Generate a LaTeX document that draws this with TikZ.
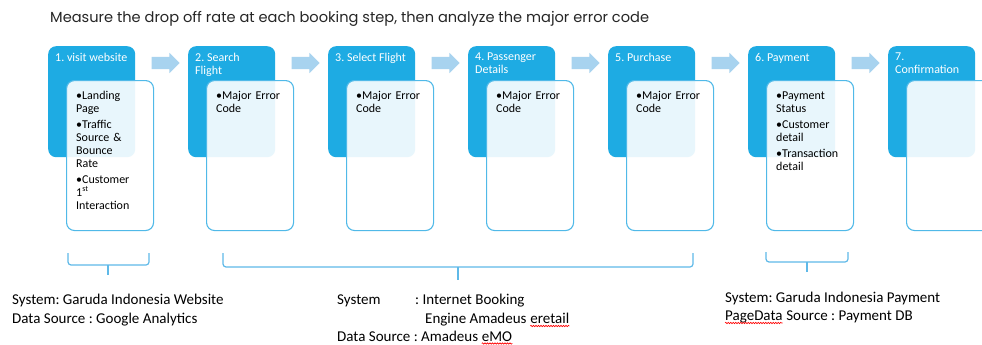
\documentclass[tikz,border=0pt]{standalone}
\usepackage{fontspec}
\setmainfont{Carlito}
\newfontfamily\headfont{Poppins}
\usetikzlibrary{shapes.arrows,decorations.pathmorphing}
\frenchspacing

\definecolor{stepblue}{RGB}{30,171,227}
\definecolor{panelline}{RGB}{80,185,232}
\definecolor{flowblue}{RGB}{168,211,239}
\definecolor{bracketblue}{RGB}{95,185,232}

% one bullet of a panel
\newcommand{\bul}[1]{\par\noindent\hangindent=6pt\hangafter=1\makebox[6pt][l]{\textbullet}#1\par\vspace{3pt}}

\tikzset{
  stepbox/.style={fill=stepblue, rounded corners=8pt, minimum width=87pt,
    minimum height=111pt, anchor=north west, inner sep=0pt},
  steptitle/.style={text=white, font=\fontsize{12}{13}\selectfont, align=left,
    anchor=north west, inner sep=0pt},
  panel/.style={draw=panelline, line width=1.1pt, fill=white, fill opacity=0.9,
    rounded corners=8pt, minimum width=87pt, minimum height=150pt,
    anchor=north west, inner sep=0pt},
  bullets/.style={font=\fontsize{12}{13}\selectfont, text width=80pt, align=left,
    anchor=north west, inner sep=0pt},
  flowarrow/.style={single arrow, fill=flowblue, minimum height=28pt,
    single arrow head extend=4pt, inner sep=0pt},
  bracket/.style={draw=bracketblue, line width=1.2pt, rounded corners=3pt},
  srctext/.style={font=\fontsize{15}{19}\selectfont, anchor=base west, inner sep=0pt},
  spellmark/.style={draw=red, line width=0.6pt, decorate,
    decoration={snake, amplitude=0.7pt, segment length=2.5pt}}
}

\begin{document}
\begin{tikzpicture}[x=1pt,y=-1pt]
\useasboundingbox[fill=white] (0,0) rectangle (982,345);

\node[anchor=base west, inner sep=0pt, text=black!85, font=\headfont\fontsize{14.6}{16}\selectfont]
  (head) at (50,23) {Measure the drop off rate at each booking step, then analyze the major error code};

% steps
\foreach \i in {1,...,7}
  \node[stepbox] (s\i) at ({48+140*(\i-1)},46) {};
\foreach \i in {1,...,6}
  \node[flowarrow] (a\i) at ([shift={(27,17)}]s\i.north east) {\rule{0pt}{12pt}};
\foreach \i in {1,...,7}
  \node[panel] (p\i) at ([shift={(18,34)}]s\i.north west) {};

\node[steptitle] (h1) at ([shift={(7,7)}]s1.north west) {1. visit website};
\node[steptitle] (h2) at ([shift={(7,7)}]s2.north west) {2. Search\\Flight};
\node[steptitle] (h3) at ([shift={(7,7)}]s3.north west) {3. Select Flight};
\node[steptitle] (h4) at ([shift={(7,7)}]s4.north west) {4. Passenger\\Details};
\node[steptitle] (h5) at ([shift={(7,7)}]s5.north west) {5. Purchase};
\node[steptitle] (h6) at ([shift={(7,7)}]s6.north west) {6. Payment};
\node[steptitle] (h7) at ([shift={(7,7)}]s7.north west) {7.\\Confirmation};

\node[bullets] (t1) at ([shift={(10,6)}]p1.north west)
  {\bul{Landing\\Page}\bul{Traffic\\Source \&\\Bounce\\Rate}\bul{Customer\\1\textsuperscript{st}\\Interaction}};
\foreach \i in {2,...,5}
  \node[bullets] (t\i) at ([shift={(10,6)}]p\i.north west) {\bul{Major Error\\Code}};
\node[bullets] (t6) at ([shift={(10,6)}]p6.north west)
  {\bul{Payment\\Status}\bul{Customer\\detail}\bul{Transaction\\detail}};

% brackets
\draw[bracket] (68,253) -- (68,265) -- (149,265) -- (149,253);
\draw[bracket] (108,265) -- (108,275);
\draw[bracket] (223,253) -- (223,267) -- (693,267) -- (693,253);
\draw[bracket] (458,267) -- (458,280);
\draw[bracket] (766,252) -- (766,262) -- (848,262) -- (848,252);
\draw[bracket] (807,262) -- (807,272);

% systems
\node[srctext] (sys1) at (12,304) {System: Garuda Indonesia Website};
\node[srctext] (src1) at (12,323) {Data Source : Google Analytics};

\node[srctext] (sys2) at (337,304) {System};
\node[srctext] (ibe) at (415,304) {: Internet Booking};
\node[srctext] (eng) at (425,323) {Engine Amadeus};
\node[srctext] (eret) at ([xshift=3.4pt]eng.base east) {eretail};
\node[srctext] (src2) at (337,341) {Data Source : Amadeus};
\node[srctext] (emo) at ([xshift=3.4pt]src2.base east) {eMO};

\node[srctext] (sys3) at (725,302) {System: Garuda Indonesia Payment};
\node[srctext] (pgd) at (725,320) {PageData};
\node[srctext] (src3) at ([xshift=3.4pt]pgd.base east) {Source : Payment DB};

\draw[spellmark] ([yshift=-3pt]eret.base west) -- ([yshift=-3pt]eret.base east);
\draw[spellmark] ([yshift=-2.5pt]emo.base west) -- ([yshift=-2.5pt]emo.base east);
\draw[spellmark] ([yshift=-3pt]pgd.base west) -- ([yshift=-3pt]pgd.base east);

\end{tikzpicture}
\end{document}
